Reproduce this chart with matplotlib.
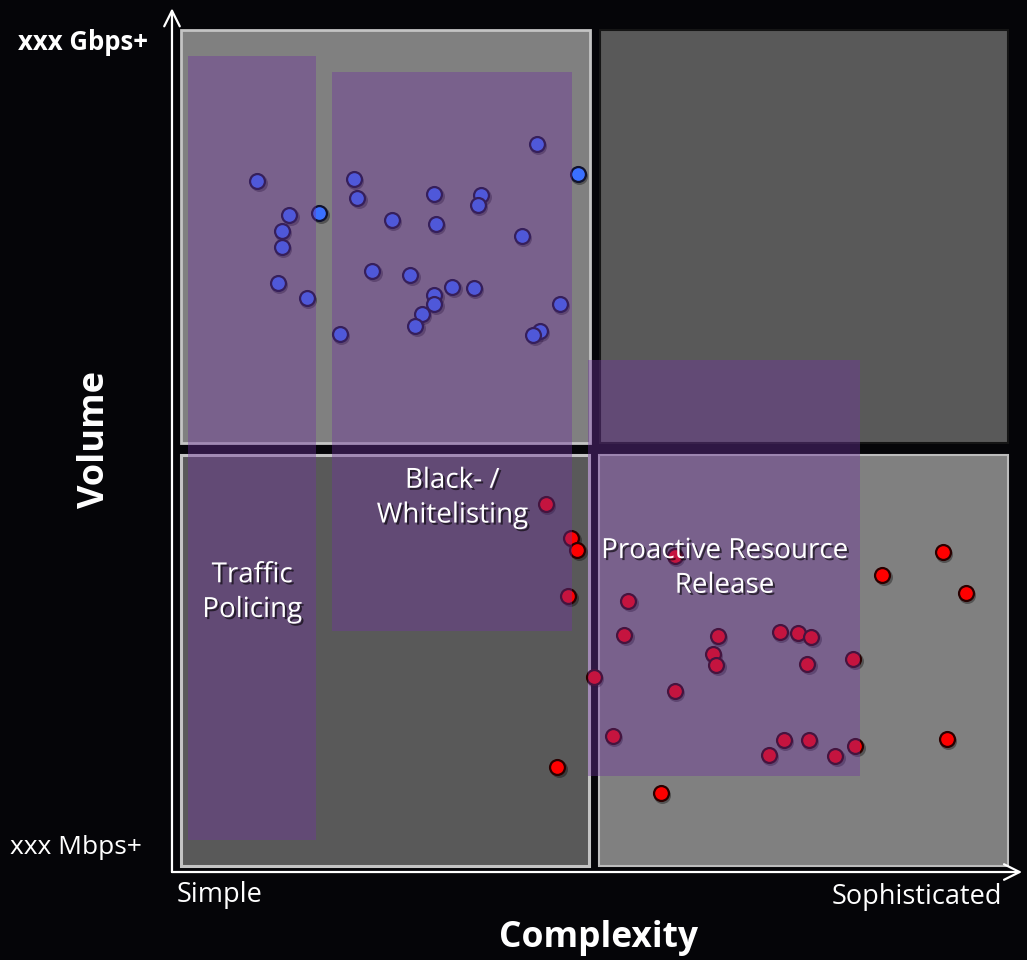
import matplotlib
matplotlib.use("Agg")
import matplotlib.pyplot as plt
import matplotlib.patches as mpatches
import matplotlib.patheffects as pe
import matplotlib.transforms as mtransforms

# attacks placed by complexity (x) and volume (y), both on a 0-100 scale
volumetric_x = [43.0, 48.0, 9.2, 20.9, 21.3, 16.7, 13.1, 12.2, 12.2, 30.6,
                36.3, 35.9, 30.8, 25.5, 41.2, 23.1, 27.7, 11.7, 15.2, 32.8,
                35.4, 30.6, 30.6, 45.8, 29.1, 28.3, 19.2, 43.4, 42.6]
volumetric_y = [86.4, 82.8, 81.9, 82.2, 79.9, 78.1, 77.9, 76.0, 74.0, 80.4,
                80.3, 79.1, 76.8, 77.3, 75.4, 71.2, 70.7, 69.7, 67.9, 69.3,
                69.1, 68.3, 67.2, 67.2, 66.0, 64.6, 63.6, 64.0, 63.5]

sophisticated_x = [44.1, 47.2, 47.9, 59.7, 92.1, 84.8, 94.9, 46.8, 54.1, 53.6,
                   64.9, 72.4, 74.6, 76.2, 64.3, 64.7, 75.7, 81.3, 49.9, 59.7,
                   52.2, 72.9, 75.9, 71.1, 79.1, 81.5, 92.6, 45.5, 58.0]
sophisticated_y = [43.3, 39.2, 37.8, 37.1, 37.6, 34.8, 32.7, 32.3, 31.7, 27.6,
                   27.5, 28.0, 27.9, 27.4, 25.4, 24.0, 24.2, 24.8, 22.6, 20.9,
                   15.6, 15.1, 15.1, 13.3, 13.2, 14.4, 15.2, 11.8, 8.7]

# mitigation techniques and the complexity / volume range each covers
mitigation_names = ["Traffic\nPolicing", "Black- /\nWhitelisting",
                    "Proactive Resource\nRelease"]
mitigation_x = [(0.85, 16.3), (18.3, 47.3), (49.2, 82.1)]
mitigation_y = [(3.1, 96.9), (28.1, 95.0), (10.8, 60.5)]

FONT = "Open Sans"

fig = plt.figure(figsize=(10.27, 9.6), dpi=100)
fig.patch.set_facecolor("#050508")
ax = fig.add_axes([0, 0, 1, 1])
ax.set_facecolor("#050508")
ax.set_xlim(-21.886, 102.297)
ax.set_ylim(-11.244, 103.589)
ax.axis("off")

# the four quadrants
quads = [
    ((0, 50.6), 49.4, 49.4, "#808080", "#c4c4c4", 2.0),
    ((50.7, 50.6), 49.3, 49.4, "#595959", "#151515", 1.5),
    ((0, 0), 49.3, 49.2, "#595959", "#c4c4c4", 2.2),
    ((50.5, 0), 49.5, 49.2, "#808080", "#bcbcbc", 1.5),
]
for xy, w, h, fc, ec, lw in quads:
    ax.add_patch(mpatches.Rectangle(xy, w, h, facecolor=fc, edgecolor=ec,
                                    linewidth=lw, zorder=1))

# attack points with a soft shadow, drawn under the technique overlays
shadow = mtransforms.offset_copy(ax.transData, fig=fig, x=1.5, y=-2.0, units="dots")
for xs, ys, fc, ec in [(volumetric_x, volumetric_y, "#3a70ff", "#10122e"),
                       (sophisticated_x, sophisticated_y, "#ff0000", "#2a0000")]:
    ax.scatter(xs, ys, s=150, color="black", alpha=0.35, linewidths=0,
               transform=shadow, zorder=2)
    ax.scatter(xs, ys, s=115, facecolor=fc, edgecolor=ec, linewidths=1.6,
               zorder=3)

# technique overlays
for (x0, x1), (y0, y1) in zip(mitigation_x, mitigation_y):
    ax.add_patch(mpatches.Rectangle((x0, y0), x1 - x0, y1 - y0,
                                    facecolor="#7034a0", alpha=0.4,
                                    linewidth=0, zorder=4))

shadow_fx = [pe.SimplePatchShadow(offset=(1.5, -1.5), shadow_rgbFace="black",
                                  alpha=0.6), pe.Normal()]
label_pos = [(8.6, 32.7), (32.8, 44.0), (65.7, 35.6)]
for name, (lx, ly) in zip(mitigation_names, label_pos):
    ax.text(lx, ly, name, color="white", fontsize=20, family=FONT,
            ha="center", va="center", linespacing=1.32,
            path_effects=shadow_fx, zorder=6)

# axis arrows
ax.annotate("", xy=(-1.09, 102.6), xytext=(-1.09, -0.72),
            arrowprops=dict(arrowstyle="->", color="white", lw=1.6,
                            mutation_scale=28, shrinkA=0, shrinkB=0), zorder=5)
ax.annotate("", xy=(101.7, -0.72), xytext=(-1.09, -0.72),
            arrowprops=dict(arrowstyle="->", color="white", lw=1.6,
                            mutation_scale=28, shrinkA=0, shrinkB=0), zorder=5)

ax.text(-11.85, 98.56, "xxx Gbps+", color="white", fontsize=18.5,
        fontweight="bold", family=FONT, ha="center", va="center")
ax.text(-12.7, 2.27, "xxx Mbps+", color="white", fontsize=19,
        family=FONT, ha="center", va="center")
ax.text(4.7, -3.47, "Simple", color="white", fontsize=19.5,
        family=FONT, ha="center", va="center")
ax.text(89.0, -3.7, "Sophisticated", color="white", fontsize=19.5,
        family=FONT, ha="center", va="center")
ax.text(50.5, -8.6, "Complexity", color="white", fontsize=25.5,
        fontweight="bold", family=FONT, ha="center", va="center")
ax.text(-10.4, 51.0, "Volume", color="white", fontsize=26,
        fontweight="bold", family=FONT, ha="center", va="center", rotation=90)

fig.savefig("out.png", dpi=100, facecolor=fig.get_facecolor())
